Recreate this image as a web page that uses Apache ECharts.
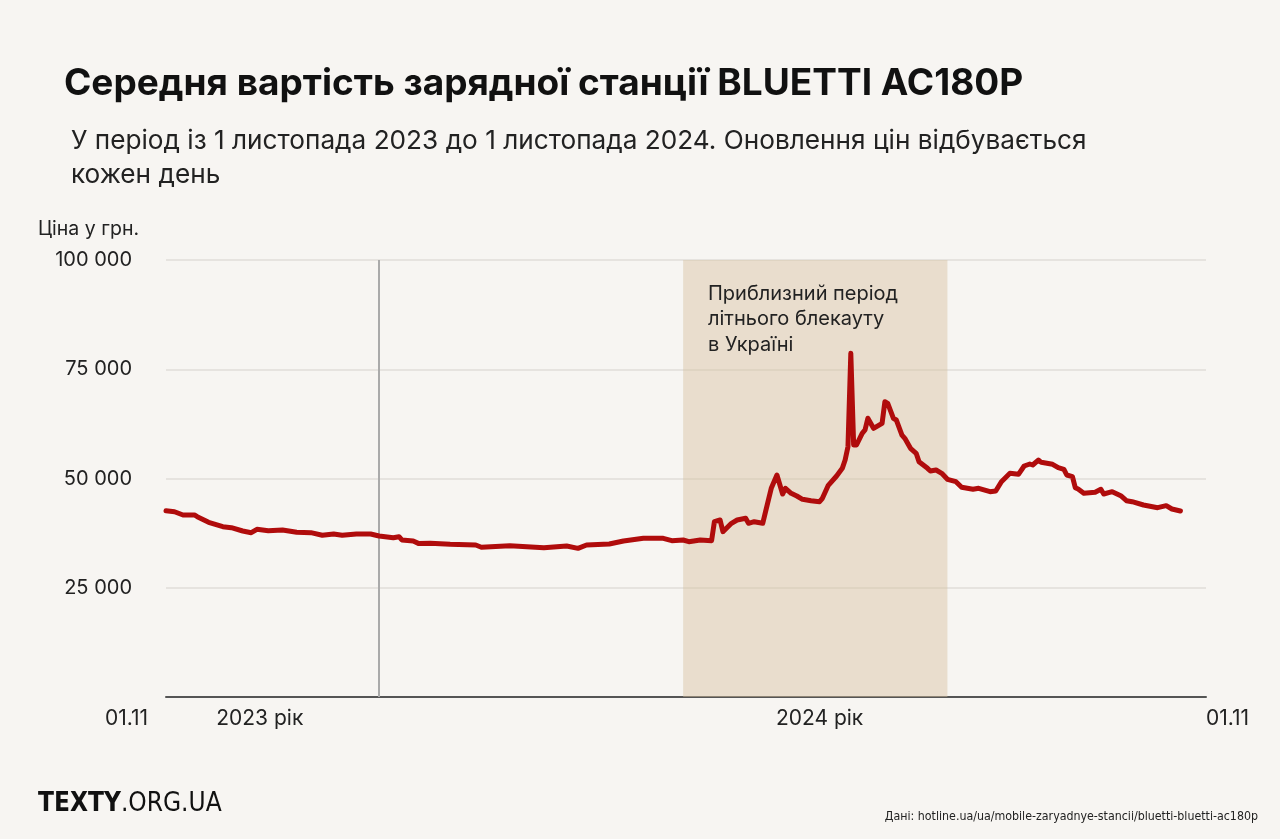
<!DOCTYPE html>
<html>
<head>
<meta charset="utf-8">
<script src="https://cdn.jsdelivr.net/npm/echarts@6/dist/echarts.min.js"></script>
<style>
html,body{margin:0;padding:0;background:#f7f5f2;}
#chart{width:1280px;height:839px;}
</style>
</head>
<body>
<div id="chart"></div>
<script>
// Days since 01.11.2023
const days = [0,3,6,10,11,15,20,23,27,30,32,36,41,46,51,55,59,62,67,72,75,80,82,83,87,89,93,100,109,111,121,133,141,145,148,156,161,168,175,178,182,184,188,192,193,195,196,199,201,204,205,207,210,211,213,215,217,218,220,222,224,227,230,231,233,236,238,239,240,241,242,243,245,246,247,249,252,253,254,256,257,259,260,262,264,265,268,269,271,273,275,278,280,284,286,290,292,294,297,300,302,304,305,307,308,312,314,316,317,319,320,321,323,327,329,330,333,336,338,340,344,349,352,354,357];
// Average price, UAH
const prices = [42600,42400,41650,41650,41250,39970,38970,38740,37990,37600,38370,38050,38220,37690,37600,37000,37300,37000,37300,37300,36840,36450,36680,35930,35700,35100,35170,34940,34780,34260,34620,34170,34550,34020,34780,35010,35700,36310,36310,35770,35930,35540,35930,35770,40120,40500,37830,39750,40500,40890,39750,40120,39750,42400,47760,50800,46450,47760,46610,46000,45240,44920,44690,45470,48360,50570,52330,54230,57280,78650,57670,57670,60340,61100,63780,61490,62630,67580,67200,63780,63390,59950,59200,56910,55770,53850,52330,51720,51950,51190,49820,49270,47990,47530,47760,46980,47140,49270,51190,50960,52860,53320,53090,54230,53700,53250,52470,52100,50800,50420,47900,47600,46610,46840,47530,46450,46980,46060,44920,44690,43940,43320,43780,43020,42560];
const yTicks = [0,25000,50000,75000,100000];
const xLabelValues = [0,33,230,366];
const xLabelTexts = ['01.11','2023 рік','2024 рік','01.11'];
const newYearDay = 75;
const blackoutPeriod = [182,275];

const FONT = 'Inter, "Noto Sans", sans-serif';
const NARROW = '"Liberation Sans Narrow", "DejaVu Sans Condensed", sans-serif';
const chart = echarts.init(document.getElementById('chart'));
const fmt = v => String(v).replace(/\B(?=(\d{3})+(?!\d))/g, ' ');

chart.setOption({
  backgroundColor: '#f7f5f2',
  animation: false,
  textStyle: {fontFamily: FONT},
  title: [
    {text: 'Середня вартість зарядної станції BLUETTI AC180P', left: 59, top: 60,
     textStyle: {fontFamily: FONT, fontSize: 37, fontWeight: 700, color: '#111'}},
    {text: 'У період із 1 листопада 2023 до 1 листопада 2024. Оновлення цін відбувається\nкожен день', left: 66, top: 119,
     textStyle: {fontFamily: FONT, fontSize: 26.2, fontWeight: 400, color: '#222', lineHeight: 34}}
  ],
  grid: {left: 166, right: 74, top: 260, bottom: 142},
  xAxis: {
    type: 'value', min: 0, max: 366,
    axisLine: {show: true, lineStyle: {color: '#555', width: 2}},
    axisTick: {show: false},
    splitLine: {show: false},
    axisLabel: {
      customValues: xLabelValues,
      alignMinLabel: 'right', alignMaxLabel: 'left',
      margin: 11,
      fontSize: 21, color: '#222', fontFamily: FONT,
      formatter: v => {
        const i = xLabelValues.indexOf(v);
        if (i === 0) return '{l|' + xLabelTexts[i] + '}';
        return i >= 0 ? xLabelTexts[i] : '';
      },
      rich: {l: {fontSize: 21, color: '#222', fontFamily: FONT, padding: [0, 18, 0, 0]}}
    }
  },
  yAxis: {
    type: 'value', min: 0, max: 100000, interval: 25000,
    axisLine: {show: false}, axisTick: {show: false},
    splitLine: {show: true, lineStyle: {color: '#e0ddd8', width: 1.5}},
    axisLabel: {margin: 34, fontSize: 20, color: '#222', fontFamily: FONT,
      formatter: v => v === 0 ? '' : fmt(v)}
  },
  graphic: [
    {type: 'text', z: 100, left: 38, top: 219, style: {text: 'Ціна у грн.', fontSize: 19.5, fill: '#222', fontFamily: FONT}},
    {type: 'text', z: 100, left: 708, top: 281, style: {text: 'Приблизний період\nлітнього блекауту\nв Україні', fontSize: 20, lineHeight: 25.5, fill: '#222', fontFamily: FONT}},
    {type: 'text', z: 100, left: 38, top: 791, style: {text: '{b|TEXTY}{r|.ORG.UA}', rich: {
      b: {fontSize: 26, fontWeight: 700, fill: '#111', fontFamily: NARROW},
      r: {fontSize: 26, fontWeight: 400, fill: '#111', fontFamily: NARROW}}}},
    {type: 'text', z: 100, right: 22, top: 811, style: {text: 'Дані: hotline.ua/ua/mobile-zaryadnye-stancii/bluetti-bluetti-ac180p', fontSize: 12.3, fill: '#222', fontFamily: NARROW}}
  ],
  series: [{
    type: 'line',
    data: days.map((d, i) => [d, prices[i]]),
    showSymbol: false, symbol: 'none',
    lineStyle: {color: '#b00c0c', width: 5, join: 'round', cap: 'round'},
    z: 5,
    markArea: {
      silent: true,
      itemStyle: {color: 'rgba(214,192,160,0.45)'},
      data: [[{xAxis: blackoutPeriod[0]}, {xAxis: blackoutPeriod[1]}]]
    },
    markLine: {
      silent: true, symbol: 'none',
      label: {show: false},
      lineStyle: {color: '#aaaaaa', width: 2, type: 'solid'},
      data: [{xAxis: newYearDay}]
    }
  }]
});
</script>
</body>
</html>
